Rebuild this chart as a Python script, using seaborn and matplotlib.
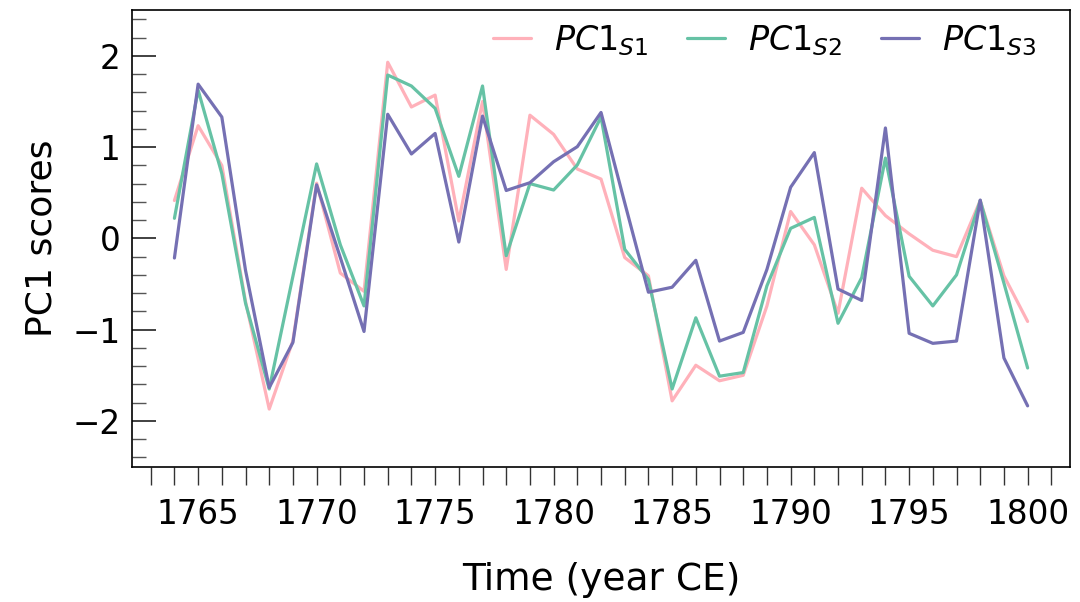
import numpy as np
import pandas as pd
import matplotlib
matplotlib.use("Agg")
import matplotlib.pyplot as plt
from matplotlib.ticker import MultipleLocator
import seaborn as sns

years = list(range(1764, 1801))
pc1_s1 = [0.415, 1.235, 0.80, -0.69, -1.87, -1.12, 0.605, -0.38, -0.58, 1.93,
          1.44, 1.57, 0.19, 1.50, -0.34, 1.35, 1.14, 0.76, 0.65, -0.21,
          -0.41, -1.78, -1.39, -1.56, -1.50, -0.74, 0.295, -0.07, -0.82, 0.55,
          0.25, 0.05, -0.13, -0.20, 0.415, -0.41, -0.91]
pc1_s2 = [0.22, 1.625, 0.71, -0.71, -1.65, -0.415, 0.816, -0.07, -0.74, 1.79,
          1.67, 1.425, 0.68, 1.67, -0.19, 0.60, 0.53, 0.805, 1.33, -0.12,
          -0.45, -1.65, -0.87, -1.51, -1.47, -0.52, 0.11, 0.23, -0.93, -0.43,
          0.88, -0.415, -0.74, -0.40, 0.415, -0.49, -1.42]
pc1_s3 = [-0.215, 1.69, 1.33, -0.35, -1.635, -1.14, 0.587, -0.21, -1.02, 1.36,
          0.925, 1.15, -0.04, 1.34, 0.525, 0.61, 0.84, 1.005, 1.38, 0.39,
          -0.59, -0.535, -0.24, -1.125, -1.03, -0.34, 0.56, 0.94, -0.555, -0.68,
          1.21, -1.04, -1.15, -1.125, 0.42, -1.31, -1.835]
labels = [r"$PC1_{S1}$", r"$PC1_{S2}$", r"$PC1_{S3}$"]
colors = ["#FFB1BA", "#66C2A5", "#7570B3"]

df = pd.concat([
    pd.DataFrame({"year": years, "score": vals, "series": lab})
    for vals, lab in zip([pc1_s1, pc1_s2, pc1_s3], labels)
])

sns.set_style("ticks")
plt.rcParams["font.family"] = ["DejaVu Sans"]
plt.rcParams["text.color"] = "black"
plt.rcParams["axes.labelcolor"] = "black"
plt.rcParams["xtick.labelcolor"] = "black"
plt.rcParams["ytick.labelcolor"] = "black"

fig, ax = plt.subplots(figsize=(10.8, 6.02), dpi=100)
fig.subplots_adjust(left=0.122, right=0.991, top=0.983, bottom=0.225)

sns.lineplot(data=df, x="year", y="score", hue="series", palette=colors,
             hue_order=labels, linewidth=2.3, ax=ax)

ax.set_ylim(-2.5, 2.5)
ax.set_xlim(1762.2, 1801.8)
ax.xaxis.set_major_locator(MultipleLocator(5))
ax.xaxis.set_minor_locator(MultipleLocator(1))
ax.yaxis.set_major_locator(MultipleLocator(1))
ax.yaxis.set_minor_locator(MultipleLocator(0.2))
ax.tick_params(axis="x", which="both", direction="out", length=13, width=1,
               labelsize=23.5, pad=10, color="#333333", labelcolor="black")
ax.tick_params(axis="y", which="major", direction="in", length=17, width=1.3,
               labelsize=23.5, pad=8, color="#333333", labelcolor="black")
ax.tick_params(axis="y", which="minor", direction="in", length=10, width=1,
               color="#555555")
for s in ax.spines.values():
    s.set_visible(True)
    s.set_color("black")
    s.set_linewidth(1.2)

ax.set_xlabel("Time (year CE)", fontsize=27, labelpad=22, color="black")
ax.set_ylabel("PC1 scores", fontsize=26, labelpad=10, color="black")

ax.legend(loc="upper right", bbox_to_anchor=(1.0, 1.045), frameon=False,
          ncol=3, fontsize=24, handlelength=1.14, handletextpad=0.7,
          columnspacing=1.15, borderaxespad=0.6)

fig.savefig("out.png", dpi=100)
